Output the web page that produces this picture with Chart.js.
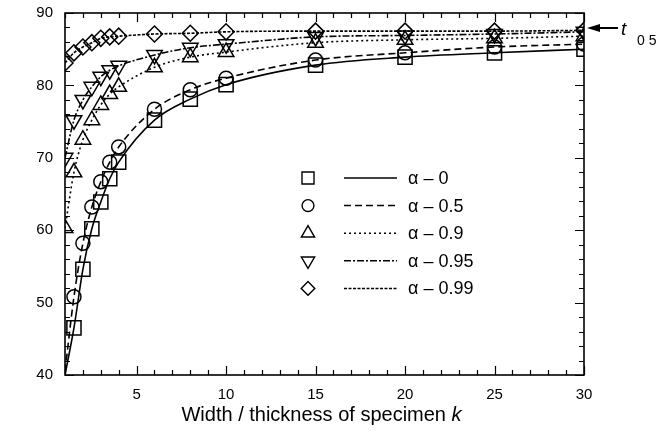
<!DOCTYPE html>
<html>
<head>
<meta charset="utf-8">
<script src="https://cdn.jsdelivr.net/npm/chart.js@4.4.1/dist/chart.umd.min.js"></script>
<style>
  html, body { margin: 0; padding: 0; background: #fff; }
  #wrap { width: 657px; height: 434px; }
</style>
</head>
<body>
<div id="wrap"><canvas id="grafico" width="657" height="434"></canvas></div>
<script>
// valores
const kVals = [1, 1.5, 2, 2.5, 3, 3.5, 4, 6, 8, 10, 15, 20, 25, 30];
const alfa0   = [40.0, 46.5, 54.6, 60.2, 63.9, 67.1, 69.4, 75.2, 78.1, 80.1, 82.8, 83.9, 84.5, 85.0];
const alfa05  = [40.5, 50.8, 58.2, 63.2, 66.7, 69.4, 71.5, 76.7, 79.4, 81.0, 83.5, 84.5, 85.3, 85.7];
const alfa09  = [60.3, 68.0, 72.5, 75.2, 77.3, 78.8, 79.8, 82.5, 83.9, 84.6, 85.9, 86.3, 86.5, 86.8];
const alfa095 = [70.0, 75.2, 78.0, 79.8, 81.2, 82.1, 82.7, 84.2, 85.2, 85.7, 86.7, 86.9, 87.1, 87.4];
const alfa099 = [83.1, 84.5, 85.3, 85.9, 86.5, 86.7, 86.8, 87.1, 87.2, 87.4, 87.5, 87.5, 87.5, 87.6];

const rotulos = ['\u03b1 \u2013 0', '\u03b1 \u2013 0.5', '\u03b1 \u2013 0.9', '\u03b1 \u2013 0.95', '\u03b1 \u2013 0.99'];
const xTicks = [5, 10, 15, 20, 25, 30];
const yTicks = [40, 50, 60, 70, 80, 90];
const tituloX = 'Width / thickness of specimen ';
const tituloXItalico = 'k';

const series = [alfa0, alfa05, alfa09, alfa095, alfa099];
const inicioMarcador = [1, 1, 0, 0, 0];   // alfa 0 e 0.5 sem marcador em k = 1
const estilos = [
  { ponto: 'rect', raio: 10, rot: 0, dash: [] },
  { ponto: 'circle', raio: 7, rot: 0, dash: [7, 4] },
  { ponto: 'triangle', raio: 9, rot: 0, dash: [2, 3] },
  { ponto: 'triangle', raio: 9, rot: 180, dash: [7, 2, 2, 2] },
  { ponto: 'rectRot', raio: 8, rot: 0, dash: [3, 1.5] }
];
const FONTE = "'Liberation Sans', Arial, sans-serif";

const datasets = [];
series.forEach((vals, i) => {
  const est = estilos[i];
  datasets.push({
    label: rotulos[i],
    data: kVals.map((k, j) => ({ x: k, y: vals[j] })),
    showLine: true,
    borderColor: '#000',
    borderWidth: 1.6,
    borderDash: est.dash,
    cubicInterpolationMode: 'monotone',
    pointRadius: 0,
    pointHoverRadius: 0
  });
  datasets.push({
    label: rotulos[i] + ' pts',
    data: kVals.map((k, j) => ({ x: k, y: vals[j] })).slice(inicioMarcador[i]),
    showLine: false,
    pointStyle: est.ponto,
    pointRotation: est.rot,
    pointRadius: est.raio,
    pointBorderWidth: 1.5,
    pointBorderColor: '#000',
    pointBackgroundColor: 'rgba(0,0,0,0)'
  });
});

function desenhaMarcador(ctx, tipo, x, y, r, rot) {
  ctx.beginPath();
  if (tipo === 'circle') {
    ctx.arc(x, y, r, 0, Math.PI * 2);
  } else if (tipo === 'rect') {
    const s = r * Math.SQRT1_2;
    ctx.rect(x - s, y - s, 2 * s, 2 * s);
  } else if (tipo === 'rectRot') {
    ctx.moveTo(x, y - r); ctx.lineTo(x + r, y); ctx.lineTo(x, y + r); ctx.lineTo(x - r, y); ctx.closePath();
  } else if (tipo === 'triangle') {
    const sg = rot === 180 ? -1 : 1;
    const a = r * Math.sqrt(3) / 2;
    ctx.moveTo(x, y - sg * r);
    ctx.lineTo(x + a, y + sg * r / 2);
    ctx.lineTo(x - a, y + sg * r / 2);
    ctx.closePath();
  }
  ctx.stroke();
}

const extras = {
  id: 'extras',
  afterDraw(chart) {
    const { ctx, chartArea: ca, scales } = chart;
    const sx = scales.x, sy = scales.y;
    ctx.save();
    ctx.strokeStyle = '#000';
    ctx.fillStyle = '#000';
    ctx.setLineDash([]);

    // moldura
    ctx.lineWidth = 1.6;
    ctx.strokeRect(ca.left, ca.top, ca.right - ca.left, ca.bottom - ca.top);

    // marcas para dentro nos quatro lados
    ctx.lineWidth = 1.2;
    ctx.beginPath();
    for (let v = Math.ceil(sx.min); v <= sx.max; v++) {
      const px = Math.round(sx.getPixelForValue(v)) + 0.5;
      const len = v % 5 === 0 ? 9 : 5;
      ctx.moveTo(px, ca.bottom); ctx.lineTo(px, ca.bottom - len);
      ctx.moveTo(px, ca.top); ctx.lineTo(px, ca.top + len);
    }
    for (let v = sy.min; v <= sy.max; v += 2) {
      const py = Math.round(sy.getPixelForValue(v)) + 0.5;
      const len = v % 10 === 0 ? 9 : 5;
      ctx.moveTo(ca.left, py); ctx.lineTo(ca.left + len, py);
      ctx.moveTo(ca.right, py); ctx.lineTo(ca.right - len, py);
    }
    ctx.stroke();

    // titulo do eixo x
    ctx.textBaseline = 'alphabetic';
    ctx.font = '20px ' + FONTE;
    const w1 = ctx.measureText(tituloX).width;
    ctx.font = 'italic 20px ' + FONTE;
    const w2 = ctx.measureText(tituloXItalico).width;
    const x0 = (sx.left + sx.right) / 2 - (w1 + w2) / 2 - 3;
    ctx.font = '20px ' + FONTE;
    ctx.textAlign = 'left';
    ctx.fillText(tituloX, x0, 421);
    ctx.font = 'italic 20px ' + FONTE;
    ctx.fillText(tituloXItalico, x0 + w1, 421);

    // legenda
    const yLeg0 = 178, passo = 27.6;
    series.forEach((_, i) => {
      const est = estilos[i];
      const y = yLeg0 + i * passo;
      ctx.lineWidth = 1.4;
      ctx.setLineDash([]);
      desenhaMarcador(ctx, est.ponto, 308, y, est.raio * 0.85, est.rot);
      ctx.lineWidth = 1.5;
      ctx.setLineDash(est.dash);
      ctx.beginPath();
      ctx.moveTo(344, y); ctx.lineTo(397, y);
      ctx.stroke();
      ctx.setLineDash([]);
      ctx.font = '18px ' + FONTE;
      ctx.textBaseline = 'middle';
      ctx.fillText(rotulos[i], 408, y + 1);
    });

    // seta t 0.5
    const ya = 28;
    ctx.lineWidth = 2;
    ctx.beginPath();
    ctx.moveTo(618, ya); ctx.lineTo(598, ya);
    ctx.stroke();
    ctx.beginPath();
    ctx.moveTo(587, ya); ctx.lineTo(600, ya - 4); ctx.lineTo(600, ya + 4); ctx.closePath();
    ctx.fill();
    ctx.textBaseline = 'alphabetic';
    ctx.font = 'italic 19px ' + FONTE;
    ctx.fillText('t', 621, 35);
    ctx.font = '14px ' + FONTE;
    ctx.fillText('0 5', 637, 45);
    ctx.restore();
  }
};

new Chart(document.getElementById('grafico'), {
  type: 'scatter',
  data: { datasets },
  options: {
    responsive: false,
    animation: false,
    events: [],
    layout: { padding: { top: 7, right: 73, left: 0, bottom: 0 } },
    plugins: { legend: { display: false }, tooltip: { enabled: false } },
    scales: {
      x: {
        type: 'linear', min: 1, max: 30,
        afterBuildTicks: s => { s.ticks = xTicks.map(v => ({ value: v })); },
        afterFit: s => { s.height = 59; },
        grid: { display: false },
        border: { display: false },
        ticks: { color: '#000', padding: 3, maxRotation: 0, font: { family: FONTE, size: 15 } }
      },
      y: {
        type: 'linear', min: 40, max: 90,
        afterBuildTicks: s => { s.ticks = yTicks.map(v => ({ value: v })); },
        afterFit: s => { s.width = 65; },
        grid: { display: false },
        border: { display: false },
        ticks: { color: '#000', padding: 4, font: { family: FONTE, size: 15 } }
      }
    }
  },
  plugins: [extras]
});
</script>
</body>
</html>
